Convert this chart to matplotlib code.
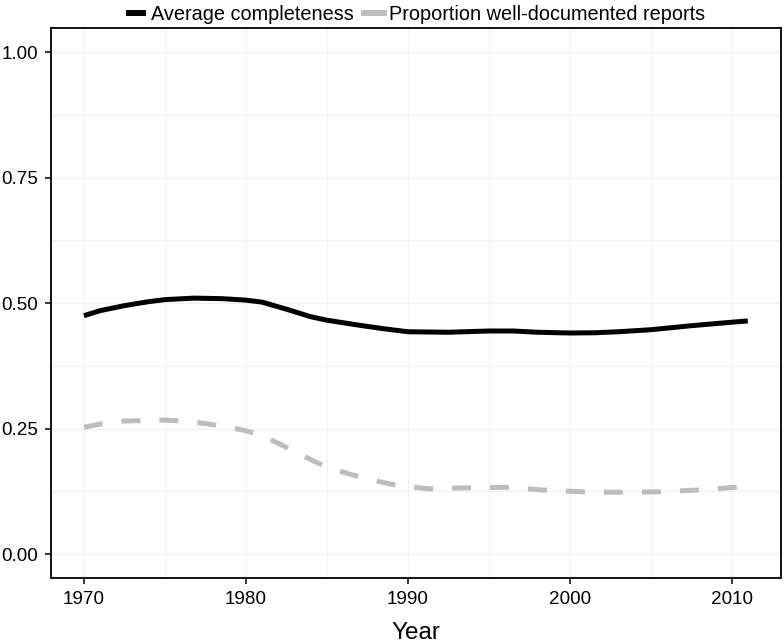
import matplotlib
matplotlib.use("Agg")
import matplotlib.pyplot as plt
from matplotlib.ticker import MultipleLocator

plt.rcParams['font.family'] = ['Liberation Sans', 'DejaVu Sans']

# values (smoothed curves)
years_avg = [1970, 1971, 1972.5, 1974, 1975, 1976.8, 1978.5, 1980, 1981, 1982.5,
             1984, 1985, 1987, 1988.5, 1990, 1992.5, 1995, 1996.5, 1998, 2000,
             2001.6, 2003, 2005, 2007.5, 2010, 2011]
avg_completeness = [0.475, 0.485, 0.495, 0.503, 0.507, 0.510, 0.509, 0.506, 0.502, 0.488,
                    0.473, 0.466, 0.456, 0.449, 0.443, 0.442, 0.4445, 0.4445, 0.442, 0.4405,
                    0.441, 0.443, 0.447, 0.455, 0.462, 0.4645]

years_prop = [1970, 1971, 1972.5, 1975, 1976.5, 1977.7, 1979, 1980, 1981, 1982.3,
              1983.4, 1984.4, 1985.5, 1986.6, 1988, 1989, 1990, 1991.35, 1993.7, 1996.1,
              1998.4, 2000.8, 2003.2, 2005.5, 2007.9, 2010.3, 2011]
prop_well_documented = [0.2525, 0.259, 0.265, 0.267, 0.264, 0.259, 0.252, 0.2458, 0.236, 0.216,
                        0.198, 0.182, 0.168, 0.1575, 0.146, 0.139, 0.134, 0.130, 0.132, 0.133,
                        0.1275, 0.124, 0.123, 0.124, 0.1275, 0.133, 0.134]

x_ticks = [1970, 1980, 1990, 2000, 2010]
y_ticks = [0.00, 0.25, 0.50, 0.75, 1.00]

fig = plt.figure(figsize=(7.84, 6.43), dpi=100)
ax = fig.add_axes([0.0647, 0.1006, 0.9962 - 0.0647, 0.9565 - 0.1006])

ax.plot(years_avg, avg_completeness, color='black', lw=3.6, solid_capstyle='butt',
        label='Average completeness')
ax.plot(years_prop, prop_well_documented, color='#bdbdbd', lw=3.6,
        linestyle=(0, (3.8, 3.8)), dash_capstyle='butt',
        label='Proportion well-documented reports')

ax.set_xlim(1967.95, 2013.05)
ax.set_ylim(-0.0484, 1.0484)
ax.set_xticks(x_ticks)
ax.set_yticks(y_ticks)
ax.set_yticklabels(['%.2f' % v for v in y_ticks])
ax.xaxis.set_minor_locator(MultipleLocator(5))
ax.yaxis.set_minor_locator(MultipleLocator(0.125))

ax.grid(which='both', color='#f0f0f0', lw=0.8)
ax.set_axisbelow(True)
for s in ax.spines.values():
    s.set_linewidth(1.3)
    s.set_color('black')

ax.tick_params(which='major', length=4, width=1.1, labelsize=13.6, colors='black', pad=5)
ax.tick_params(which='minor', length=0)
ax.set_xlabel('Year', fontsize=17.5, labelpad=10)

leg = fig.legend(loc='upper center', bbox_to_anchor=(0.53, 1.02), ncol=2, frameon=False,
                 fontsize=14.3, handlelength=1.0, handletextpad=0.25, columnspacing=0.5)
for h in leg.get_lines():
    h.set_linestyle('-')
    h.set_linewidth(4.3)

fig.savefig('out.png', dpi=100)
